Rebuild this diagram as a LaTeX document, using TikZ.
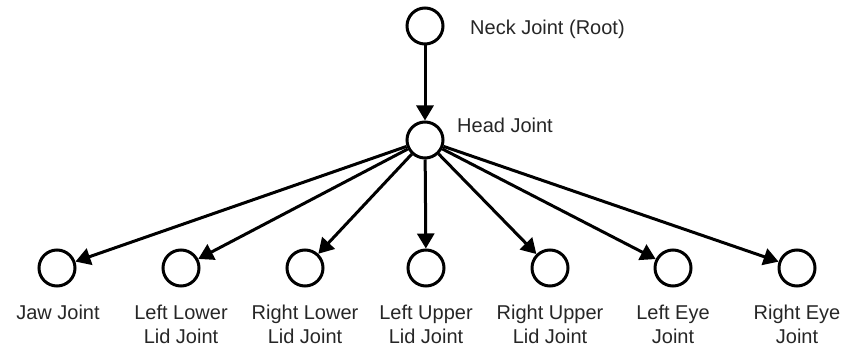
\documentclass[tikz,border=0pt]{standalone}
\usepackage{fontspec}
\setmainfont{Liberation Sans}
\usetikzlibrary{arrows.meta}
\begin{document}
\begin{tikzpicture}[x=1pt,y=-1pt,
  joint/.style={circle,draw=black,line width=3pt,minimum size=36pt,inner sep=0pt},
  link/.style={line width=3pt,-{Triangle[length=15pt,width=17pt]}},
  lbl/.style={font=\fontsize{20}{24}\selectfont,inner sep=0pt,text=black!85},
  caption/.style={lbl,align=center,anchor=north}]
\useasboundingbox (0,0) rectangle (842,347);
% tree of joints
\node[joint] (neck) at (425,26) {};
\node[joint] (head) at (425,140) {};
\node[joint] (jaw) at (57,268) {};
\node[joint] (llow) at (181,268) {};
\node[joint] (rlow) at (305,268) {};
\node[joint] (lup) at (426,268) {};
\node[joint] (rup) at (550,268) {};
\node[joint] (leye) at (673,268) {};
\node[joint] (reye) at (797,268) {};
% labels
\node[lbl,anchor=west] (neckl) at (470,29) {Neck Joint (Root)};
\node[lbl,anchor=west] (headl) at (457,125) {Head Joint};
\node[caption] (jawl) at (58,305) {Jaw Joint};
\node[caption] (llowl) at (181,305) {Left Lower\\Lid Joint};
\node[caption] (rlowl) at (305,305) {Right Lower\\Lid Joint};
\node[caption] (lupl) at (426,305) {Left Upper\\Lid Joint};
\node[caption] (rupl) at (550,305) {Right Upper\\Lid Joint};
\node[caption] (leyel) at (673,305) {Left Eye\\Joint};
\node[caption] (reyel) at (797,305) {Right Eye\\Joint};
% connections
\draw[link] (neck) -- (head);
\foreach \c in {jaw,llow,rlow,lup,rup,leye,reye}
  \draw[link] (head) -- (\c);
\end{tikzpicture}
\end{document}
